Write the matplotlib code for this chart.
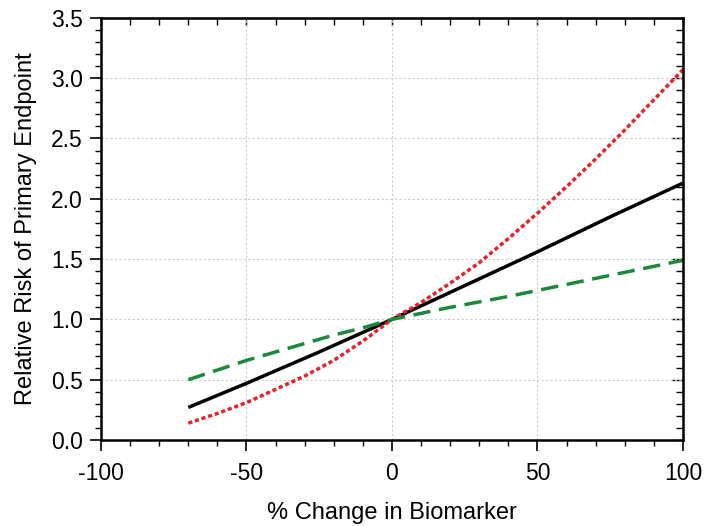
import numpy as np
import matplotlib
matplotlib.use('Agg')
from matplotlib import pyplot as plt
from matplotlib.ticker import MultipleLocator

plt.rcParams['font.family'] = ['Liberation Sans', 'DejaVu Sans']
plt.rcParams['axes.unicode_minus'] = False

# % change in biomarker
x_black = [-70, -50, -25, 0, 25, 50, 75, 100]
rr_black = [0.27, 0.47, 0.73, 1.0, 1.28, 1.56, 1.85, 2.13]

x_red = [-70, -60, -50, -40, -30, -20, -10, 0, 10, 20, 30, 40, 50, 60, 70, 80, 90, 100]
rr_red = [0.14, 0.22, 0.31, 0.42, 0.53, 0.66, 0.82, 1.0, 1.14, 1.30, 1.47, 1.67,
          1.88, 2.10, 2.33, 2.57, 2.82, 3.07]

x_green = [-70, -60, -50, -40, -30, -20, -10, 0, 20, 40, 60, 80, 100]
rr_green = [0.50, 0.58, 0.66, 0.73, 0.80, 0.87, 0.93, 1.0, 1.10, 1.19, 1.29, 1.39, 1.49]

fig = plt.figure(figsize=(7.04, 5.26), dpi=100)
ax = fig.add_axes([0.1435, 0.1635, 0.8265, 0.8025])

ax.plot(x_black, rr_black, color='black', lw=2.5, solid_capstyle='butt')
ax.plot(x_red, rr_red, color='#e8202a', lw=2.5, linestyle=(0, (1.2, 0.8)))
ax.plot(x_green, rr_green, color='#1a8a3a', lw=2.5, linestyle=(0, (5, 2.5)))

ax.set_xlim(-100, 100)
ax.set_ylim(0, 3.5)
ax.xaxis.set_major_locator(MultipleLocator(50))
ax.xaxis.set_minor_locator(MultipleLocator(10))
ax.yaxis.set_major_locator(MultipleLocator(0.5))
ax.yaxis.set_minor_locator(MultipleLocator(0.1))
ax.yaxis.set_major_formatter(matplotlib.ticker.FormatStrFormatter('%.1f'))

ax.grid(True, which='major', color='#cccccc', linestyle=(0, (2, 2)), lw=0.8)
for s in ax.spines.values():
    s.set_linewidth(1.8)

ax.tick_params(which='major', direction='out', length=8, width=1.2, labelsize=16.5, pad=5)
ax.tick_params(which='minor', direction='out', length=4, width=1.0)
ax.tick_params(axis='x', which='major', pad=8)

top = ax.secondary_xaxis('top')
top.xaxis.set_major_locator(MultipleLocator(50))
top.xaxis.set_minor_locator(MultipleLocator(10))
top.tick_params(which='both', direction='in', labeltop=False)
top.tick_params(which='major', length=6, width=1.0)
top.tick_params(which='minor', length=5, width=1.0)

right = ax.secondary_yaxis('right')
right.yaxis.set_major_locator(MultipleLocator(0.5))
right.yaxis.set_minor_locator(MultipleLocator(0.1))
right.tick_params(which='both', direction='in', labelright=False)
right.tick_params(which='major', length=8, width=1.0)
right.tick_params(which='minor', length=5, width=1.0)

ax.set_xlabel('% Change in Biomarker', fontsize=17, labelpad=12)
ax.set_ylabel('Relative Risk of Primary Endpoint', fontsize=17, labelpad=10)

plt.savefig('out.png', dpi=100)
